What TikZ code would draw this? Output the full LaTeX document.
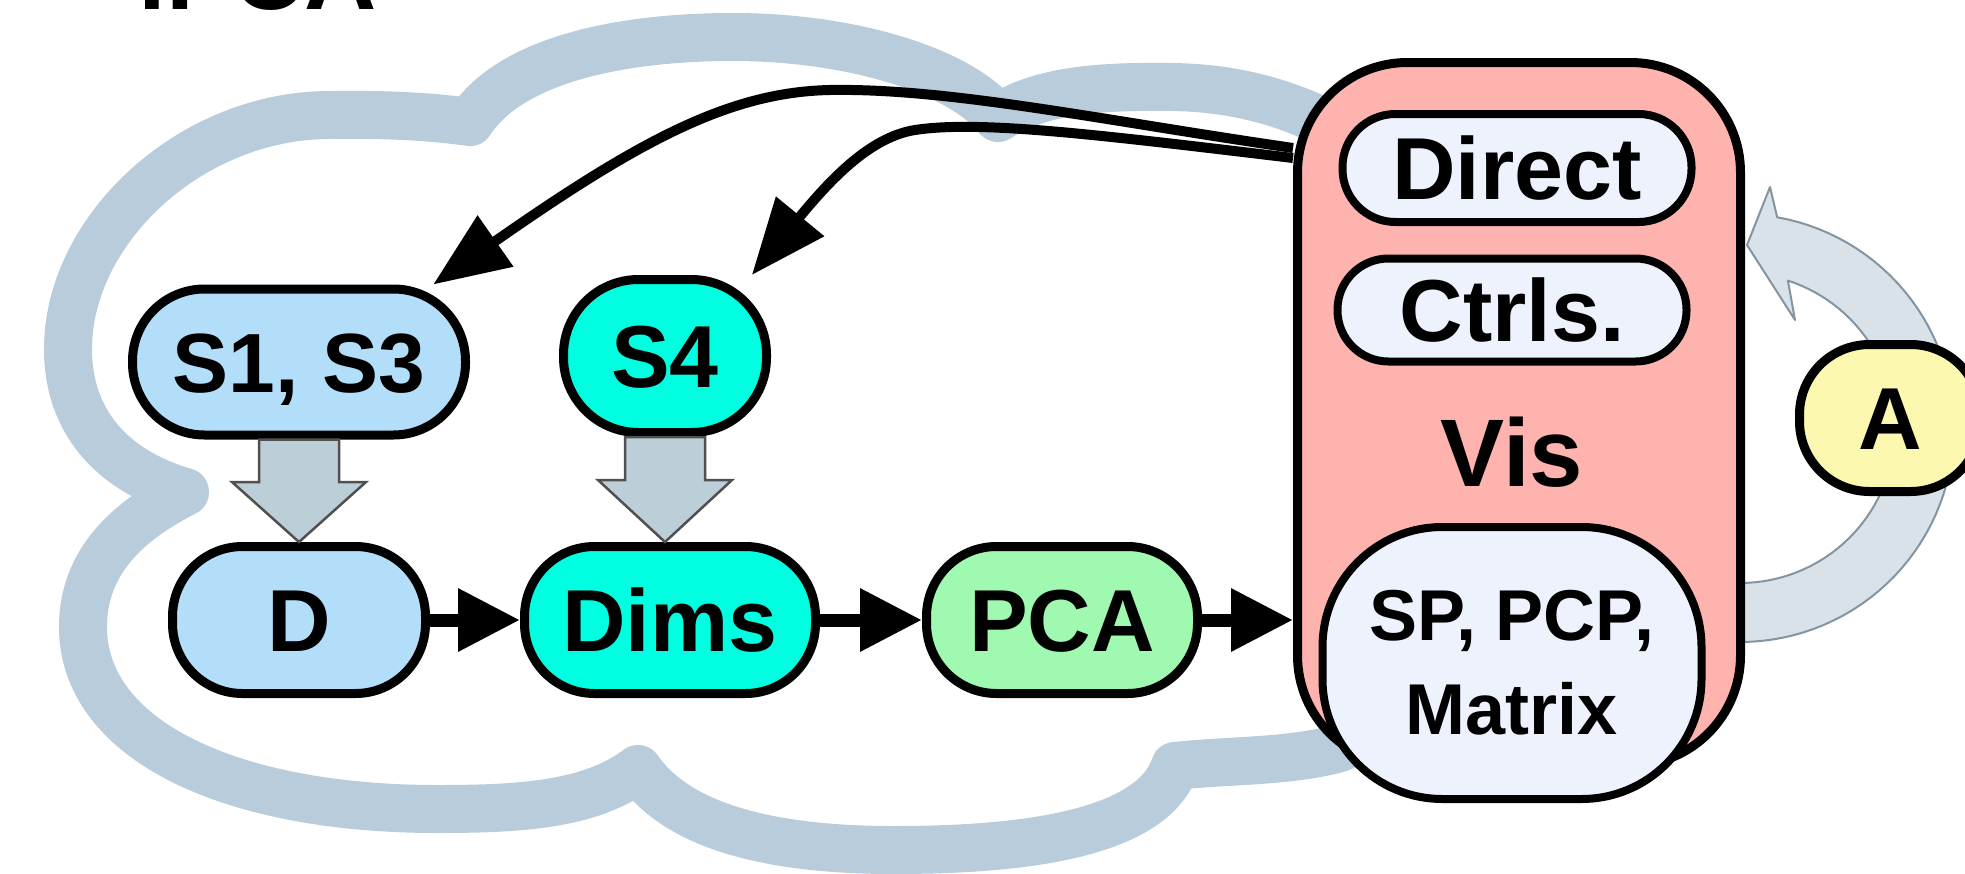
\documentclass[tikz,border=0pt]{standalone}
\usepackage{fontspec}
\setmainfont{Liberation Sans}
\usetikzlibrary{arrows.meta,calc}

\definecolor{cloudC}{HTML}{B8CCDB}
\definecolor{dataC}{HTML}{B3DEFA}
\definecolor{dimC}{HTML}{00FFE0}
\definecolor{pcaC}{HTML}{A0F9B0}
\definecolor{visC}{HTML}{FFB3AE}
\definecolor{paneC}{HTML}{EDF2FC}
\definecolor{annC}{HTML}{FCF8B0}
\definecolor{fatC}{HTML}{BCCFD9}
\definecolor{fatE}{HTML}{505050}
\definecolor{ringC}{HTML}{D9E2E9}
\definecolor{ringE}{HTML}{8494A0}

\newcommand\fnode{\fontsize{88}{100}\selectfont\bfseries}
\newcommand\fsmall{\fontsize{84}{100}\selectfont\bfseries}
\newcommand\fvis{\fontsize{96}{110}\selectfont\bfseries}
\newcommand\fsp{\fontsize{72}{94}\selectfont\bfseries}
\newcommand\ftitle{\fontsize{100}{110}\selectfont\bfseries}

\begin{document}
\begin{tikzpicture}[x=1pt, y=-1pt,
  stage/.style={draw=black, line width=9pt, inner sep=0pt,
                text height=63pt, text depth=0pt, font=\fnode},
  panel/.style={draw=black, line width=8pt, inner sep=0pt, fill=paneC,
                text height=63pt, text depth=0pt, font=\fnode},
  flowarrow/.style={line width=13pt, -{Triangle[length=62pt,width=60pt]}},
  backarrow/.style={line width=10pt, -{Triangle[length=76pt,width=60pt]}},
  fatarrow/.style={fill=fatC, draw=fatE, line width=2.5pt, line join=miter},
  cloudline/.style={draw=cloudC, line width=48pt, line join=round},
  ringarrow/.style={fill=ringC, draw=ringE, line width=2pt, line join=round}
]
\useasboundingbox (0,0) rectangle (1965,873);

% title, mostly above the page edge
\node[anchor=base west, inner sep=0pt, font=\ftitle] (title) at (138,9) {iPCA};

% the cloud outline around the pipeline
\draw[cloudline] (185,492) .. controls (110,470) and (68,420) .. (68,349)
  .. controls (68,230) and (190,115) .. (330,115)
  .. controls (400,114) and (440,118) .. (470,122)
  .. controls (510,60) and (620,37) .. (733,37)
  .. controls (850,37) and (960,70) .. (998,118)
  .. controls (1040,90) and (1100,86) .. (1173,87)
  .. controls (1230,88) and (1280,100) .. (1330,125)
  -- (1450,220) -- (1450,690) -- (1340,748)
  .. controls (1290,762) and (1230,760) .. (1175,766)
  .. controls (1150,840) and (1000,850) .. (893,850)
  .. controls (780,850) and (680,830) .. (638,769)
  .. controls (590,805) and (520,809) .. (437,809)
  .. controls (230,809) and (83,740) .. (83,627)
  .. controls (83,560) and (130,520) .. (185,492) -- cycle;

% curved feedback arrow on the right of the view
\draw[ringarrow] plot[domain=-90:80, samples=60] ({1740+214*cos(\x)}, {428-214*sin(\x)})
  -- (1770,187) -- (1747,245) -- (1795,320)
  -- plot[domain=72:-90, samples=60] ({1740+155*cos(\x)}, {428-155*sin(\x)}) -- cycle;

% pipeline stages
\node[stage, fill=dataC, minimum width=333pt, minimum height=146pt, rounded corners=72pt, font=\fsmall, text height=60pt] (s13) at (299,362) {S1, S3};
\node[stage, fill=dimC, minimum width=203pt, minimum height=153pt, rounded corners=75pt] (s4) at (665,356) {S4};
\node[stage, fill=dataC, minimum width=253pt, minimum height=147pt, rounded corners=70pt] (d) at (299,620) {D};
\node[stage, fill=dimC, minimum width=291pt, minimum height=147pt, rounded corners=70pt] (dims) at (670,620) {Dims};
\node[stage, fill=pcaC, minimum width=271pt, minimum height=147pt, rounded corners=70pt] (pca) at (1062,620) {PCA};

% view container and its parts
\node[stage, fill=visC, minimum width=443pt, minimum height=703pt, rounded corners=110pt] (vis) at (1519,414) {};
\node[panel, minimum width=349pt, minimum height=108pt, rounded corners=53pt] (direct) at (1517,168) {Direct};
\node[panel, minimum width=349pt, minimum height=103pt, rounded corners=51pt] (ctrls) at (1512,310) {Ctrls.};
\node[inner sep=0pt, font=\fvis, text height=69pt, text depth=0pt] (vislabel) at (1512,452) {Vis};
\node[panel, minimum width=379pt, minimum height=272pt, rounded corners=120pt,
      font=\fsp, align=center, text height=, text depth=] (sp) at (1512,663) {SP, PCP,\\Matrix};

% annotation
\node[stage, fill=annC, minimum width=181pt, minimum height=147pt, rounded corners=70pt] (ann) at (1890,418) {A};

% wide downward arrows
\coordinate (tipD) at (s13.south |- d.north);
\draw[fatarrow] ($(s13.south)+(-40,0)$) -- ($(tipD)+(-40,-60)$) -- ($(tipD)+(-67,-60)$)
  -- (tipD) -- ($(tipD)+(67,-60)$) -- ($(tipD)+(40,-60)$) -- ($(s13.south)+(40,0)$) -- cycle;
\coordinate (tipDims) at (s4.south |- dims.north);
\draw[fatarrow] ($(s4.south)+(-40,0)$) -- ($(tipDims)+(-40,-62)$) -- ($(tipDims)+(-67,-62)$)
  -- (tipDims) -- ($(tipDims)+(67,-62)$) -- ($(tipDims)+(40,-62)$) -- ($(s4.south)+(40,0)$) -- cycle;

% main flow
\draw[flowarrow] (d.east) -- (dims.west);
\draw[flowarrow] (dims.east) -- (pca.west);
\draw[flowarrow] (pca.east) -- (vis.west |- pca.east);

% interaction back to the stages
\draw[backarrow] ([yshift=-90pt]vis.north west)
  .. controls (1100,120) and (950,88) .. (830,90)
  .. controls (730,92) and (640,140) .. (s13.30);
\draw[backarrow] ([yshift=-100pt]vis.north west)
  .. controls (1100,135) and (980,120) .. (915,130)
  .. controls (870,137) and (830,180) .. (s4.43);
\end{tikzpicture}
\end{document}
